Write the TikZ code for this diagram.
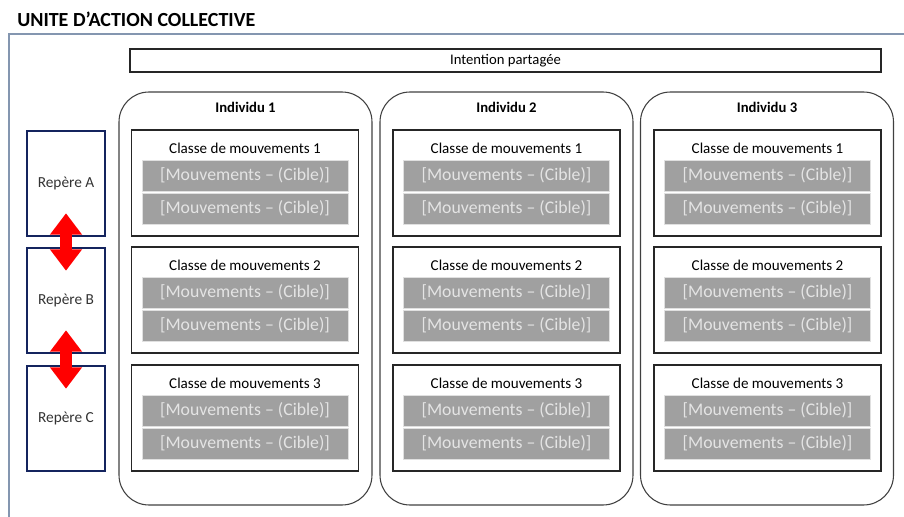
\documentclass[tikz,border=0pt]{standalone}
\usepackage{fontspec}
\setmainfont{Carlito}
\usetikzlibrary{calc,arrows.meta,positioning}
\definecolor{cadre}{HTML}{8496B0}
\definecolor{marine}{HTML}{14245E}
\definecolor{grisfond}{HTML}{A0A0A0}
\definecolor{gristxt}{HTML}{E4E4E4}
\tikzset{
  individu/.style={draw=black!75, line width=0.8pt, rounded corners=22.5pt, minimum width=189.75pt, minimum height=309.75pt, inner sep=0pt},
  indtitre/.style={font=\bfseries\fontsize{11}{13}\selectfont, inner sep=0pt},
  classebox/.style={draw=black!85, line width=0.9pt, minimum width=170.25pt, minimum height=79.5pt, inner sep=0pt},
  classtitre/.style={font=\fontsize{11.3}{13}\selectfont, inner sep=0pt},
  mvt/.style={draw=black!12, line width=0.6pt, fill=grisfond, text=gristxt, minimum width=154.5pt, minimum height=23.25pt, inner sep=0pt, font=\fontsize{13.3}{15}\selectfont},
  repere/.style={draw=marine, line width=1.9pt, minimum width=58.5pt, minimum height=78.75pt, inner sep=0pt, font=\fontsize{11.5}{13}\selectfont, text=black!80},
  dblarrow/.style={draw=red, line width=9pt, {Triangle[width=23pt,length=16pt]}-{Triangle[width=23pt,length=16pt]}, shorten <=-18pt, shorten >=-18pt},
}
\def\classe(#1,#2)#3#4{%
  \node[classebox] (#3) at (#1,#2) {};
  \node[classtitre] (#3t) at ($(#3.north)+(0,19)$) {Classe de mouvements #4};
  \node[mvt] (#3a) at ($(#3.north)+(0,46)$) {[Mouvements -- (Cible)]};
  \node[mvt] (#3b) at ($(#3.north)+(0,79)$) {[Mouvements -- (Cible)]};
}

\begin{document}
\begin{tikzpicture}[x=0.75pt, y=-0.75pt]
		%%%%% START %%%%%
		\useasboundingbox (0,0) rectangle (904,517);
		
		\node[anchor=west, inner sep=0pt, font=\bfseries\fontsize{15}{18}\selectfont] (titre) at (17,19) {UNITE D’ACTION COLLECTIVE};
		\draw[line width=1.2pt, color=cadre] (9,517) -- (9,34) -- (904,34);
		
		\node[draw=black!85, line width=0.9pt, minimum width=563.25pt, minimum height=17.25pt, inner sep=0pt, font=\fontsize{11}{13}\selectfont] (intention) at (505.5,60.5) {Intention partagée};
		
		\node[individu] (ind1) at (245.5,298.5) {};
		\node[indtitre] (ind1t) at ($(ind1.north)+(0,16)$) {Individu 1};
		\node[individu] (ind2) at (506.5,298.5) {};
		\node[indtitre] (ind2t) at ($(ind2.north)+(0,16)$) {Individu 2};
		\node[individu] (ind3) at (767,298.5) {};
		\node[indtitre] (ind3t) at ($(ind3.north)+(0,16)$) {Individu 3};
		
		\classe(245,183){c11}{1}
		\classe(245,300){c12}{2}
		\classe(245,418){c13}{3}
		
		\classe(506.5,183){c21}{1}
		\classe(506.5,300){c22}{2}
		\classe(506.5,418){c23}{3}
		
		\classe(767.5,183){c31}{1}
		\classe(767.5,300){c32}{2}
		\classe(767.5,418){c33}{3}
		
		\node[repere] (repA) at (66,183.5) {Repère A};
		\node[repere] (repB) at (66,300.5) {Repère B};
		\node[repere] (repC) at (66,418.5) {Repère C};
		
		\draw[dblarrow] (repA) -- (repB);
		\draw[dblarrow] (repB) -- (repC);
		
		%%%%% END %%%%%
\end{tikzpicture}
\end{document}
